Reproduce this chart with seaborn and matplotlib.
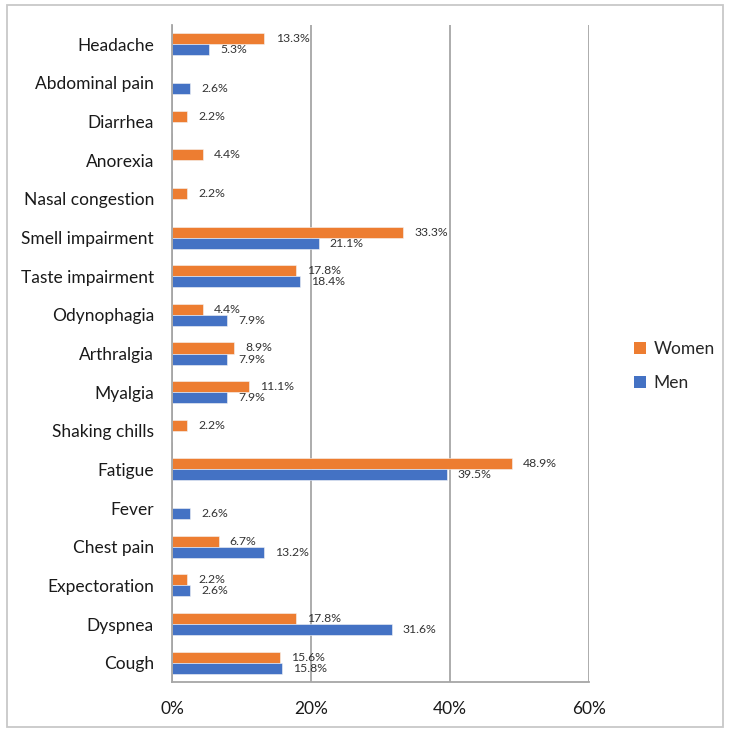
import matplotlib
matplotlib.use("Agg")
import matplotlib.pyplot as plt
import seaborn as sns
import pandas as pd
from matplotlib.patches import Patch, Rectangle
from matplotlib.ticker import FuncFormatter

symptoms = ["Headache", "Abdominal pain", "Diarrhea", "Anorexia", "Nasal congestion",
            "Smell impairment", "Taste impairment", "Odynophagia", "Arthralgia", "Myalgia",
            "Shaking chills", "Fatigue", "Fever", "Chest pain", "Expectoration",
            "Dyspnea", "Cough"]
women = [13.3, 0, 2.2, 4.4, 2.2, 33.3, 17.8, 4.4, 8.9, 11.1, 2.2, 48.9, 0, 6.7, 2.2, 17.8, 15.6]
men = [5.3, 2.6, 0, 0, 0, 21.1, 18.4, 7.9, 7.9, 7.9, 0, 39.5, 2.6, 13.2, 2.6, 31.6, 15.8]
x_ticks = [0, 20, 40, 60]
groups = ["Women", "Men"]
colors = {"Women": "#ED7D31", "Men": "#4472C4"}

df = pd.DataFrame({
    "Symptom": symptoms * 2,
    "Percent": women + men,
    "Sex": ["Women"] * len(symptoms) + ["Men"] * len(symptoms),
})

sns.set_theme(style="white")
plt.rcParams["font.family"] = ["Lato", "DejaVu Sans"]

fig = plt.figure(figsize=(7.32, 7.34), dpi=100)
ax = fig.add_axes([172 / 732, 1 - 682 / 734, (589 - 172) / 732, (682 - 25) / 734])

sns.barplot(data=df, y="Symptom", x="Percent", hue="Sex", order=symptoms,
            hue_order=groups, palette=colors, saturation=1, orient="h", width=0.57, gap=0,
            edgecolor="#f5f5f5", linewidth=0.4, ax=ax, legend=False, errorbar=None)

ax.set_xlim(0, 60)
ax.set_ylim(len(symptoms) - 0.5, -0.5)
ax.set_xticks(x_ticks)
ax.xaxis.set_major_formatter(FuncFormatter(lambda v, p: f"{v:.0f}%"))
ax.set_xlabel("")
ax.set_ylabel("")

grid_col = "#A6A6A6"
ax.grid(axis="x", color=grid_col, linewidth=1.3)
ax.set_axisbelow(True)
for s in ["top", "right"]:
    ax.spines[s].set_visible(False)
for s in ["left", "bottom"]:
    ax.spines[s].set_color(grid_col)
    ax.spines[s].set_linewidth(1.3)

# category ticks: labels at centers, tick marks at boundaries
ax.set_yticks(range(len(symptoms)))
ax.set_yticklabels(symptoms)
ax.tick_params(axis="y", which="major", length=0, pad=13, labelsize=12.5, labelcolor="#1a1a1a")
ax.set_yticks([i - 0.5 for i in range(len(symptoms) + 1)], minor=True)
ax.tick_params(axis="y", which="minor", length=5, width=1.3, color=grid_col, direction="out")
ax.tick_params(axis="x", length=6, width=1.3, color=grid_col, direction="out",
               labelsize=12.5, labelcolor="#1a1a1a", pad=8)

for cont, vals in zip(ax.containers, [women, men]):
    labels = [f"{v:.1f}%" if v > 0 else "" for v in vals]
    ax.bar_label(cont, labels=labels, padding=8, fontsize=8.8, color="#333333")

handles = [Patch(facecolor=colors[g], edgecolor="none", label=g) for g in groups]
fig.legend(handles=handles, loc="center left", bbox_to_anchor=(618 / 732, 1 - 366 / 734),
           frameon=False, fontsize=12.5, handlelength=0.7, handleheight=0.7,
           handletextpad=0.45, labelspacing=1.05)

fig.patches.append(Rectangle((7 / 732, 1 - 727 / 734), (723 - 7) / 732, (727 - 5) / 734,
                             transform=fig.transFigure, fill=False,
                             edgecolor="#C8C8C8", linewidth=1.3))

fig.savefig("out.png", dpi=100, facecolor="white")
